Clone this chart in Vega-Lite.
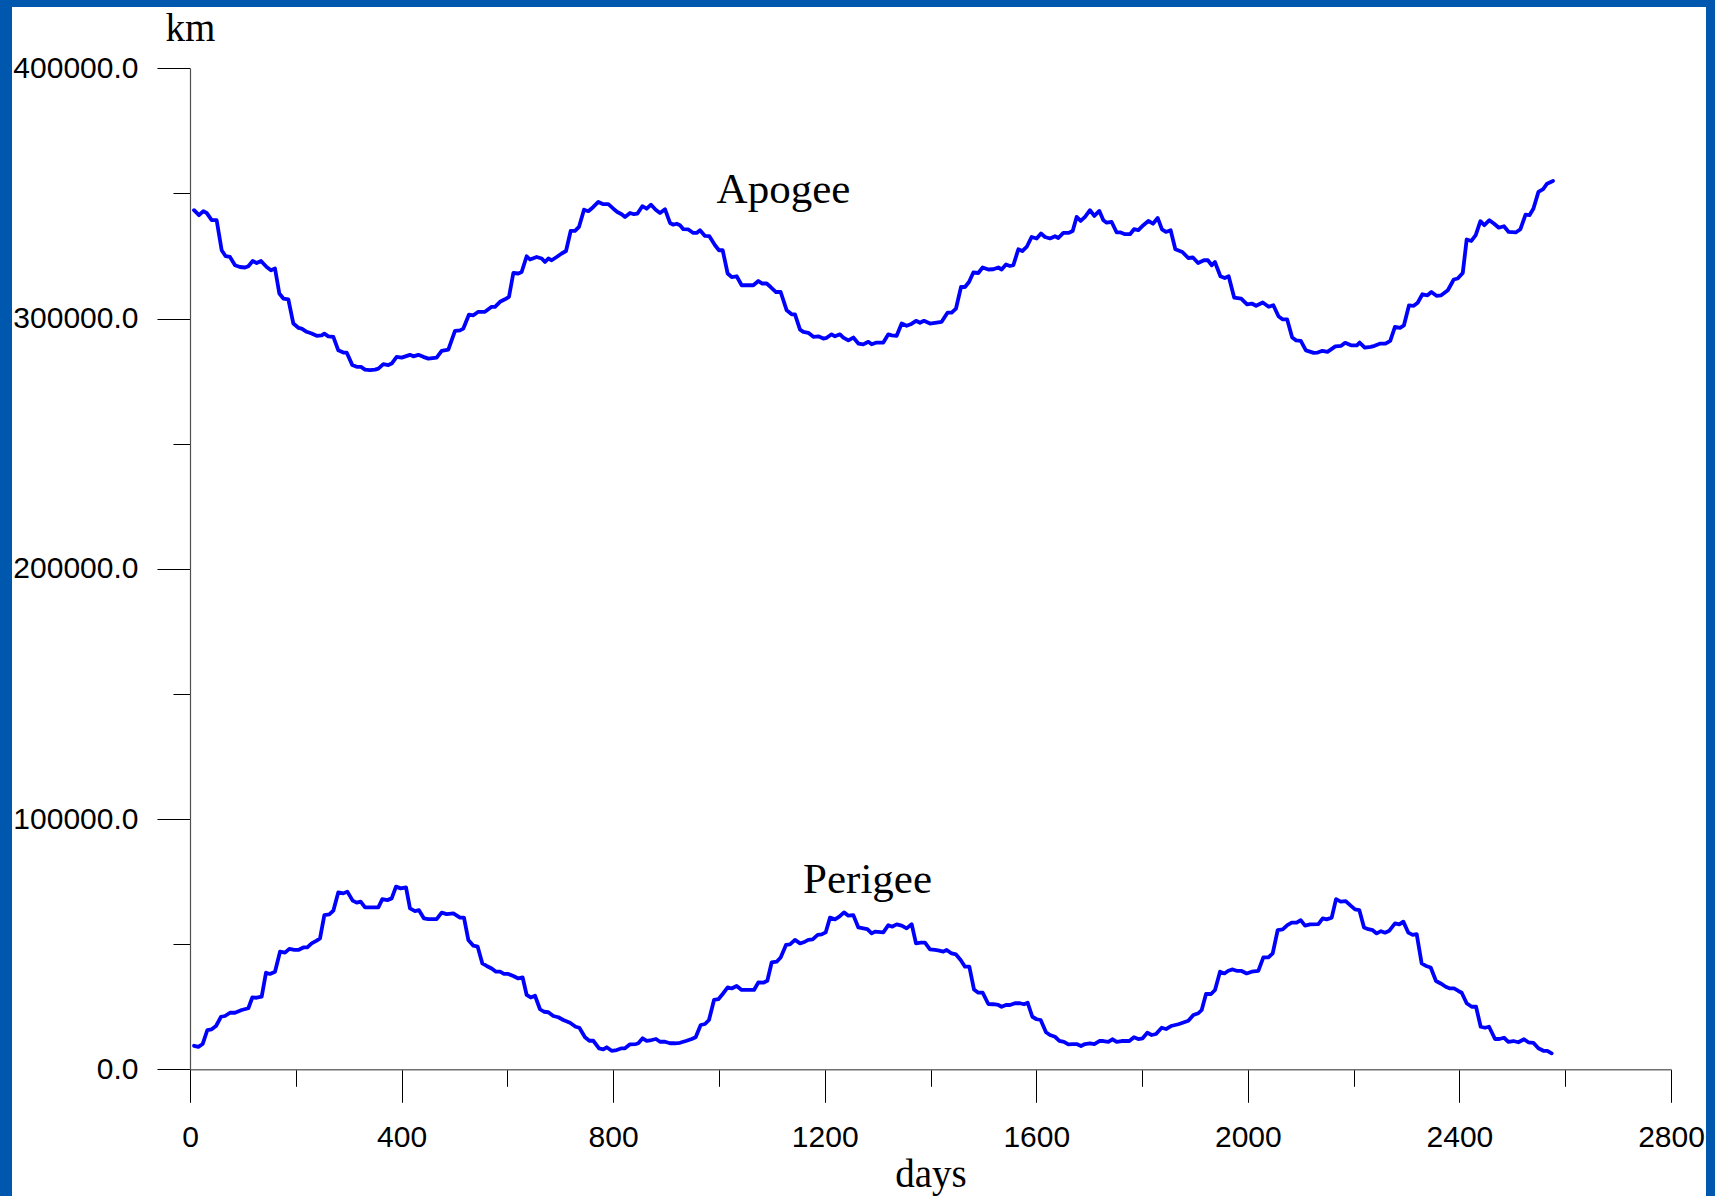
{
"$schema": "https://vega.github.io/schema/vega-lite/v6.json",
"width": 1694, "height": 1189,
"autosize": {"type": "none"},
"padding": {"left": 12, "top": 7, "right": 9, "bottom": 0},
"background": "#0057AE",
"view": {"fill": "#ffffff", "stroke": null},
"datasets": {
"apogee": [
{"day":7.6,"km":343300},{"day":17.0,"km":341300},{"day":25.2,"km":342900},{"day":31.5,"km":342200},{"day":41.0,"km":339300},{"day":50.4,"km":339300},{"day":59.9,"km":327300},{"day":67.4,"km":324900},{"day":75.6,"km":324600},{"day":85.1,"km":321300},{"day":94.5,"km":320600},{"day":104.0,"km":320400},{"day":110.3,"km":320900},{"day":118.5,"km":323000},{"day":126.0,"km":322200},{"day":134.2,"km":323000},{"day":144.9,"km":320600},{"day":153.1,"km":319300},{"day":160.7,"km":320000},{"day":168.9,"km":310000},{"day":176.5,"km":308000},{"day":185.9,"km":307700},{"day":195.4,"km":298000},{"day":204.8,"km":296300},{"day":211.1,"km":296000},{"day":220.6,"km":294700},{"day":230.0,"km":294000},{"day":239.5,"km":293100},{"day":248.9,"km":293300},{"day":254.0,"km":294000},{"day":261.5,"km":292900},{"day":271.0,"km":292700},{"day":280.4,"km":287300},{"day":289.9,"km":286400},{"day":296.2,"km":286400},{"day":306.9,"km":281400},{"day":315.1,"km":280700},{"day":323.3,"km":280700},{"day":330.9,"km":279600},{"day":340.3,"km":279400},{"day":349.8,"km":279600},{"day":356.1,"km":280000},{"day":365.5,"km":281800},{"day":375.0,"km":281400},{"day":381.3,"km":282000},{"day":390.7,"km":284700},{"day":400.2,"km":284400},{"day":415.9,"km":285500},{"day":422.2,"km":284900},{"day":431.7,"km":285500},{"day":441.1,"km":284700},{"day":450.6,"km":284000},{"day":466.3,"km":284400},{"day":475.8,"km":287100},{"day":488.4,"km":287600},{"day":501.0,"km":295100},{"day":510.5,"km":295300},{"day":516.8,"km":296000},{"day":527.5,"km":301600},{"day":535.7,"km":301300},{"day":545.1,"km":302700},{"day":557.7,"km":302700},{"day":570.3,"km":304700},{"day":576.6,"km":304700},{"day":586.1,"km":306700},{"day":595.5,"km":307700},{"day":603.1,"km":308700},{"day":611.3,"km":318200},{"day":620.7,"km":318000},{"day":627.0,"km":318600},{"day":636.5,"km":324900},{"day":642.8,"km":323600},{"day":655.4,"km":324600},{"day":664.9,"km":324000},{"day":671.2,"km":322600},{"day":677.5,"km":324000},{"day":683.8,"km":323300},{"day":693.2,"km":324600},{"day":702.7,"km":326000},{"day":710.9,"km":327000},{"day":719.7,"km":335000},{"day":727.9,"km":335000},{"day":735.4,"km":336600},{"day":744.9,"km":343500},{"day":753.1,"km":342900},{"day":762.5,"km":344600},{"day":772.0,"km":346600},{"day":781.4,"km":345700},{"day":790.9,"km":345700},{"day":800.4,"km":343900},{"day":807.9,"km":342600},{"day":816.1,"km":341700},{"day":822.4,"km":340600},{"day":831.9,"km":342200},{"day":839.4,"km":341700},{"day":845.7,"km":341900},{"day":855.2,"km":344900},{"day":863.4,"km":343900},{"day":871.6,"km":345500},{"day":880.4,"km":343500},{"day":888.6,"km":342200},{"day":898.0,"km":343700},{"day":907.5,"km":338200},{"day":913.8,"km":337500},{"day":920.1,"km":337900},{"day":926.4,"km":337300},
{"day":932.7,"km":335700},{"day":942.2,"km":335600},{"day":951.6,"km":334200},{"day":957.9,"km":334200},{"day":964.2,"km":335300},{"day":973.7,"km":333000},{"day":981.9,"km":332900},{"day":992.6,"km":329300},{"day":1000.1,"km":327300},{"day":1007.1,"km":327300},{"day":1016.5,"km":318000},{"day":1024.1,"km":316600},{"day":1033.5,"km":316900},{"day":1043.0,"km":313300},{"day":1065.0,"km":313300},{"day":1074.5,"km":315000},{"day":1082.1,"km":314000},{"day":1090.2,"km":314000},{"day":1097.8,"km":312600},{"day":1107.9,"km":310600},{"day":1116.7,"km":310600},{"day":1128.1,"km":303300},{"day":1137.5,"km":301700},{"day":1143.8,"km":301700},{"day":1153.3,"km":295600},{"day":1159.6,"km":294700},{"day":1169.0,"km":294300},{"day":1178.5,"km":292700},{"day":1187.9,"km":292900},{"day":1197.4,"km":292000},{"day":1203.7,"km":292300},{"day":1213.1,"km":293700},{"day":1219.4,"km":292900},{"day":1228.9,"km":293700},{"day":1235.2,"km":292400},{"day":1244.7,"km":291300},{"day":1254.1,"km":292400},{"day":1263.6,"km":290000},{"day":1273.0,"km":289700},{"day":1282.5,"km":290700},{"day":1288.8,"km":289700},{"day":1298.2,"km":290400},{"day":1310.8,"km":290400},{"day":1320.3,"km":293700},{"day":1326.6,"km":293300},{"day":1336.0,"km":293100},{"day":1345.5,"km":298000},{"day":1354.9,"km":297100},{"day":1362.5,"km":297700},{"day":1372.6,"km":299100},{"day":1380.1,"km":298300},{"day":1387.7,"km":299100},{"day":1399.0,"km":298000},{"day":1421.1,"km":298700},{"day":1432.4,"km":302400},{"day":1440.0,"km":302400},{"day":1448.2,"km":304000},{"day":1457.7,"km":312600},{"day":1465.2,"km":312600},{"day":1472.8,"km":314600},{"day":1481.0,"km":318400},{"day":1490.4,"km":318200},{"day":1498.6,"km":320400},{"day":1509.3,"km":319600},{"day":1518.8,"km":319700},{"day":1528.2,"km":320400},{"day":1534.5,"km":319600},{"day":1542.7,"km":321600},{"day":1550.3,"km":321000},{"day":1556.6,"km":321300},{"day":1566.1,"km":327700},{"day":1573.6,"km":327000},{"day":1581.8,"km":328600},{"day":1591.3,"km":332600},{"day":1600.7,"km":332000},{"day":1608.9,"km":334000},{"day":1616.5,"km":332600},{"day":1626.0,"km":332000},{"day":1635.4,"km":332900},{"day":1641.7,"km":332200},{"day":1651.1,"km":334200},{"day":1660.7,"km":334200},{"day":1668.8,"km":335000},{"day":1676.3,"km":340600},{"day":1683.9,"km":339000},{"day":1692.2,"km":340600},{"day":1701.5,"km":343300},{"day":1709.7,"km":341000},{"day":1719.2,"km":343000},{"day":1726.8,"km":339300},{"day":1733.1,"km":338300},{"day":1742.5,"km":338600},{"day":1752.0,"km":334400},{"day":1759.5,"km":334400},{"day":1767.7,"km":333700},{"day":1777.2,"km":333700},{"day":1784.8,"km":335700},{"day":1793.0,"km":335300},{"day":1802.4,"km":337300},{"day":1811.8,"km":339000},{"day":1820.6,"km":337900},
{"day":1829.5,"km":340200},{"day":1837.6,"km":335600},{"day":1845.1,"km":334600},{"day":1854.0,"km":335300},{"day":1862.9,"km":327700},{"day":1876.2,"km":326600},{"day":1887.3,"km":324200},{"day":1896.2,"km":324400},{"day":1905.9,"km":322200},{"day":1917.0,"km":323300},{"day":1924.4,"km":323300},{"day":1931.8,"km":321300},{"day":1937.7,"km":322600},{"day":1948.1,"km":316900},{"day":1956.3,"km":316200},{"day":1963.7,"km":316900},{"day":1974.1,"km":308400},{"day":1987.4,"km":308000},{"day":1998.5,"km":305700},{"day":2007.4,"km":306000},{"day":2015.6,"km":305100},{"day":2028.2,"km":306400},{"day":2039.3,"km":304700},{"day":2048.2,"km":305300},{"day":2057.9,"km":300900},{"day":2065.3,"km":299700},{"day":2074.2,"km":299700},{"day":2083.8,"km":292400},{"day":2091.2,"km":291300},{"day":2100.1,"km":291100},{"day":2109.7,"km":287300},{"day":2124.6,"km":286300},{"day":2132.0,"km":286400},{"day":2140.9,"km":287100},{"day":2150.5,"km":286700},{"day":2165.4,"km":288900},{"day":2176.5,"km":289100},{"day":2183.9,"km":290300},{"day":2195.0,"km":289300},{"day":2206.1,"km":289300},{"day":2211.3,"km":290400},{"day":2221.0,"km":288400},{"day":2232.1,"km":288700},{"day":2239.5,"km":289100},{"day":2250.6,"km":290000},{"day":2260.3,"km":290000},{"day":2269.2,"km":291100},{"day":2278.1,"km":296700},{"day":2287.7,"km":296300},{"day":2295.1,"km":297300},{"day":2304.7,"km":305300},{"day":2313.6,"km":305100},{"day":2321.1,"km":306300},{"day":2330.0,"km":309700},{"day":2339.6,"km":309300},{"day":2347.0,"km":310600},{"day":2356.6,"km":309100},{"day":2365.5,"km":309300},{"day":2378.1,"km":311300},{"day":2389.3,"km":315600},{"day":2396.7,"km":316000},{"day":2406.3,"km":318200},{"day":2413.7,"km":331600},{"day":2422.6,"km":331000},{"day":2430.8,"km":333300},{"day":2439.7,"km":338900},{"day":2447.1,"km":337300},{"day":2456.7,"km":339300},{"day":2465.6,"km":337900},{"day":2474.5,"km":336300},{"day":2484.2,"km":336900},{"day":2493.1,"km":334600},{"day":2506.4,"km":334400},{"day":2515.3,"km":335700},{"day":2525.0,"km":341500},{"day":2532.4,"km":341300},{"day":2539.8,"km":343900},{"day":2549.4,"km":350600},{"day":2558.3,"km":351700},{"day":2565.7,"km":353900},{"day":2576.9,"km":355000}
],
"perigee": [
{"day":7.6,"km":9400},{"day":15.8,"km":9000},{"day":23.9,"km":10100},{"day":32.8,"km":15700},{"day":41.0,"km":16000},{"day":49.2,"km":17300},{"day":58.6,"km":21000},{"day":66.2,"km":21300},{"day":75.6,"km":22600},{"day":85.1,"km":22600},{"day":97.7,"km":23700},{"day":110.3,"km":24400},{"day":117.8,"km":28700},{"day":126.0,"km":28600},{"day":135.5,"km":29000},{"day":143.7,"km":38600},{"day":151.2,"km":38100},{"day":160.7,"km":39000},{"day":170.2,"km":47000},{"day":179.6,"km":46600},{"day":187.8,"km":48100},{"day":197.3,"km":47700},{"day":204.8,"km":47700},{"day":214.3,"km":48700},{"day":221.8,"km":48700},{"day":230.0,"km":50300},{"day":239.5,"km":51400},{"day":245.8,"km":52300},{"day":254.0,"km":61600},{"day":263.4,"km":61900},{"day":271.0,"km":63400},{"day":280.4,"km":70700},{"day":289.9,"km":70300},{"day":297.5,"km":71000},{"day":307.5,"km":67400},{"day":315.1,"km":66600},{"day":322.7,"km":67000},{"day":330.9,"km":64700},{"day":340.3,"km":64700},{"day":356.1,"km":64700},{"day":363.6,"km":68000},{"day":373.1,"km":67600},{"day":381.3,"km":68300},{"day":389.5,"km":73000},{"day":398.3,"km":72300},{"day":408.4,"km":72700},{"day":415.9,"km":64300},{"day":425.4,"km":63200},{"day":432.9,"km":63600},{"day":442.4,"km":60300},{"day":450.6,"km":60000},{"day":466.3,"km":60000},{"day":475.8,"km":62600},{"day":485.3,"km":62000},{"day":497.9,"km":62300},{"day":510.5,"km":60600},{"day":518.0,"km":60600},{"day":526.2,"km":51700},{"day":535.7,"km":49400},{"day":543.9,"km":49000},{"day":552.7,"km":42300},{"day":560.9,"km":41300},{"day":570.3,"km":40300},{"day":578.5,"km":39000},{"day":586.1,"km":39000},{"day":593.6,"km":38100},{"day":601.8,"km":38100},{"day":611.3,"km":37300},{"day":620.7,"km":36300},{"day":628.9,"km":36700},{"day":636.5,"km":29700},{"day":644.1,"km":28700},{"day":652.3,"km":29400},{"day":661.7,"km":24000},{"day":669.3,"km":23000},{"day":677.5,"km":22800},{"day":686.9,"km":21300},{"day":696.4,"km":20800},{"day":705.8,"km":19700},{"day":718.4,"km":18600},{"day":729.1,"km":17000},{"day":736.1,"km":16600},{"day":746.8,"km":12800},{"day":755.0,"km":11400},{"day":762.5,"km":11400},{"day":773.3,"km":8400},{"day":781.4,"km":8000},{"day":787.8,"km":8800},{"day":797.2,"km":7400},{"day":806.7,"km":7700},{"day":816.1,"km":8400},{"day":822.4,"km":8400},{"day":831.9,"km":10000},{"day":843.2,"km":10100},{"day":847.6,"km":10400},{"day":855.8,"km":12400},{"day":863.4,"km":11400},{"day":872.8,"km":11700},{"day":881.0,"km":12100},{"day":888.6,"km":11000},{"day":898.0,"km":11000},{"day":907.5,"km":10400},{"day":916.9,"km":10400},{"day":926.4,"km":10600},
{"day":939.0,"km":11400},{"day":948.5,"km":12100},{"day":956.0,"km":12800},{"day":965.5,"km":17700},{"day":973.7,"km":18100},{"day":981.2,"km":19700},{"day":990.7,"km":27700},{"day":998.9,"km":28000},{"day":1007.1,"km":30100},{"day":1016.5,"km":32700},{"day":1024.1,"km":32300},{"day":1033.5,"km":33300},{"day":1043.0,"km":31700},{"day":1066.3,"km":31700},{"day":1074.5,"km":34700},{"day":1083.9,"km":34600},{"day":1091.5,"km":35400},{"day":1099.7,"km":42700},{"day":1109.1,"km":43000},{"day":1116.7,"km":44700},{"day":1126.8,"km":49700},{"day":1134.4,"km":49900},{"day":1143.8,"km":51700},{"day":1153.3,"km":50300},{"day":1162.7,"km":51000},{"day":1169.0,"km":51700},{"day":1177.2,"km":51900},{"day":1186.7,"km":53700},{"day":1194.2,"km":53900},{"day":1201.8,"km":54700},{"day":1210.0,"km":60600},{"day":1219.4,"km":59900},{"day":1227.6,"km":61000},{"day":1236.5,"km":62700},{"day":1244.7,"km":61400},{"day":1254.1,"km":61600},{"day":1263.6,"km":56700},{"day":1273.0,"km":56300},{"day":1280.6,"km":56000},{"day":1288.8,"km":54300},{"day":1295.1,"km":55000},{"day":1310.8,"km":54700},{"day":1320.3,"km":57600},{"day":1327.8,"km":57000},{"day":1336.0,"km":57900},{"day":1345.5,"km":57400},{"day":1354.9,"km":56300},{"day":1364.4,"km":58000},{"day":1372.6,"km":50300},{"day":1381.4,"km":50600},{"day":1389.6,"km":50600},{"day":1399.0,"km":47900},{"day":1408.5,"km":47700},{"day":1416.7,"km":47400},{"day":1424.2,"km":47000},{"day":1430.6,"km":47700},{"day":1440.0,"km":46300},{"day":1448.2,"km":45900},{"day":1457.0,"km":43700},{"day":1465.2,"km":41000},{"day":1473.4,"km":41000},{"day":1482.2,"km":31900},{"day":1490.4,"km":30600},{"day":1498.6,"km":30600},{"day":1509.3,"km":26100},{"day":1518.8,"km":26000},{"day":1528.2,"km":25700},{"day":1534.5,"km":25000},{"day":1542.7,"km":25700},{"day":1550.3,"km":25700},{"day":1559.7,"km":26400},{"day":1569.2,"km":26400},{"day":1576.8,"km":26000},{"day":1583.7,"km":26600},{"day":1592.5,"km":21000},{"day":1600.7,"km":20000},{"day":1608.3,"km":19700},{"day":1618.4,"km":14800},{"day":1625.9,"km":13700},{"day":1635.4,"km":13000},{"day":1643.6,"km":11400},{"day":1652.4,"km":11000},{"day":1660.6,"km":10000},{"day":1668.8,"km":10100},{"day":1676.3,"km":10100},{"day":1684.5,"km":9300},{"day":1692.1,"km":10100},{"day":1701.5,"km":10400},{"day":1709.7,"km":10100},{"day":1719.2,"km":11300},{"day":1726.8,"km":11300},{"day":1736.2,"km":11000},{"day":1743.8,"km":12000},{"day":1752.0,"km":11000},{"day":1761.4,"km":11300},{"day":1775.9,"km":11300},{"day":1784.7,"km":12800},{"day":1792.9,"km":12100},{"day":1801.1,"km":12400},{"day":1809.9,"km":14600},
{"day":1818.2,"km":13700},{"day":1826.4,"km":14100},{"day":1837.1,"km":16600},{"day":1845.3,"km":16100},{"day":1854.7,"km":17300},{"day":1868.6,"km":18000},{"day":1876.8,"km":18600},{"day":1887.5,"km":19400},{"day":1897.0,"km":21700},{"day":1906.4,"km":22400},{"day":1912.7,"km":23700},{"day":1920.9,"km":30100},{"day":1930.4,"km":30100},{"day":1937.9,"km":31700},{"day":1947.4,"km":39000},{"day":1955.6,"km":38300},{"day":1963.1,"km":39400},{"day":1971.3,"km":39900},{"day":1980.1,"km":39300},{"day":1988.3,"km":39300},{"day":1997.8,"km":38300},{"day":2007.2,"km":39000},{"day":2019.8,"km":39300},{"day":2029.3,"km":44700},{"day":2038.8,"km":44700},{"day":2047.0,"km":46300},{"day":2056.4,"km":55600},{"day":2065.9,"km":55900},{"day":2074.7,"km":57600},{"day":2082.9,"km":58600},{"day":2092.3,"km":58600},{"day":2099.9,"km":59600},{"day":2108.1,"km":57400},{"day":2117.5,"km":57900},{"day":2133.3,"km":58000},{"day":2141.5,"km":60300},{"day":2149.0,"km":59900},{"day":2158.5,"km":60600},{"day":2166.7,"km":68000},{"day":2175.5,"km":67000},{"day":2185.0,"km":67200},{"day":2194.4,"km":65400},{"day":2202.6,"km":63900},{"day":2210.8,"km":63600},{"day":2219.6,"km":56700},{"day":2227.8,"km":56000},{"day":2236.0,"km":55600},{"day":2243.6,"km":54300},{"day":2251.8,"km":55200},{"day":2259.3,"km":54600},{"day":2267.5,"km":55400},{"day":2278.2,"km":58300},{"day":2286.4,"km":57900},{"day":2294.0,"km":59000},{"day":2303.4,"km":54600},{"day":2311.6,"km":53700},{"day":2319.2,"km":54000},{"day":2328.6,"km":42300},{"day":2336.8,"km":41300},{"day":2345.7,"km":40700},{"day":2355.7,"km":35300},{"day":2364.6,"km":34300},{"day":2374.0,"km":33000},{"day":2382.2,"km":32300},{"day":2389.8,"km":32300},{"day":2398.0,"km":31300},{"day":2404.3,"km":30600},{"day":2413.7,"km":26400},{"day":2423.2,"km":25000},{"day":2431.4,"km":25000},{"day":2440.2,"km":17000},{"day":2448.4,"km":16600},{"day":2456.0,"km":17000},{"day":2467.3,"km":12100},{"day":2475.5,"km":12100},{"day":2484.3,"km":12600},{"day":2492.5,"km":11000},{"day":2502.0,"km":11300},{"day":2511.4,"km":10800},{"day":2522.1,"km":12000},{"day":2530.3,"km":10800},{"day":2539.8,"km":10600},{"day":2549.2,"km":8400},{"day":2558.7,"km":7400},{"day":2566.2,"km":7400},{"day":2574.4,"km":6400}
],
"labels": [
{"label": "Apogee", "day": 1122, "km": 346350},
{"label": "Perigee", "day": 1281, "km": 70300}
]
},
"layer": [
{
"data": {"name": "apogee"},
"mark": {"type": "line", "color": "#0000FF", "strokeWidth": 3.8, "strokeJoin": "round", "strokeCap": "round"},
"encoding": {
"x": {"field": "day", "type": "quantitative",
"scale": {"domain": [0, 2800], "range": [178, 1659], "nice": false, "zero": false},
"axis": {"orient": "bottom", "offset": -126.7, "grid": false,
"values": [0,200,400,600,800,1000,1200,1400,1600,1800,2000,2200,2400,2600,2800],
"format": "d",
"labelExpr": "datum.value % 400 === 0 ? datum.label : ''",
"tickSize": {"condition": {"test": "datum.value % 400 === 0", "value": 33}, "value": 17},
"tickColor": "#000000", "tickWidth": 1,
"domainColor": "#707070", "domainWidth": 1.5,
"labelFont": "Liberation Sans", "labelFontSize": 30, "labelColor": "#000000",
"labelPadding": 20.5, "labelFlush": false, "labelOverlap": false, "labelBound": false,
"title": "days", "titleFont": "Liberation Serif", "titleFontSize": 39, "titleFontWeight": "normal",
"titleColor": "#000000", "titleBaseline": "alphabetic", "titleY": 117.5}},
"y": {"field": "km", "type": "quantitative",
"scale": {"domain": [0, 400000], "range": [1062.3, 61.3], "nice": false, "zero": false},
"axis": {"orient": "left", "offset": -178, "grid": false,
"values": [0,50000,100000,150000,200000,250000,300000,350000,400000],
"labelExpr": "datum.value % 100000 === 0 ? format(datum.value, '.1f') : ''",
"tickSize": {"condition": {"test": "datum.value % 100000 === 0", "value": 33}, "value": 17},
"tickColor": "#000000", "tickWidth": 1,
"domainColor": "#505050", "domainWidth": 1.2,
"labelFont": "Liberation Sans", "labelFontSize": 30, "labelColor": "#000000",
"labelPadding": 19, "labelFlush": false, "labelOverlap": false, "labelBound": false,
"title": "km", "titleFont": "Liberation Serif", "titleFontSize": 39, "titleFontWeight": "normal",
"titleColor": "#000000", "titleAngle": 0, "titleAlign": "center", "titleBaseline": "alphabetic",
"titleX": 0, "titleY": 33}}
}
},
{
"data": {"name": "perigee"},
"mark": {"type": "line", "color": "#0000FF", "strokeWidth": 3.8, "strokeJoin": "round", "strokeCap": "round"},
"encoding": {
"x": {"field": "day", "type": "quantitative"},
"y": {"field": "km", "type": "quantitative"}
}
},
{
"data": {"name": "labels"},
"mark": {"type": "text", "font": "Liberation Serif", "fontSize": 43, "align": "center", "baseline": "alphabetic", "color": "#000000"},
"encoding": {
"x": {"field": "day", "type": "quantitative"},
"y": {"field": "km", "type": "quantitative"},
"text": {"field": "label"}
}
}
]
}
